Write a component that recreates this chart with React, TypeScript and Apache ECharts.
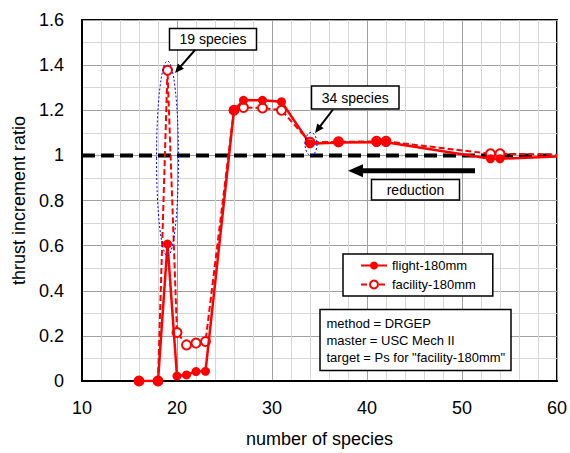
import React, { useEffect, useRef } from "react";
import * as echarts from "echarts";

const flightX = [16, 18, 19, 20, 21, 22, 23, 26, 27, 29, 31, 34, 37, 41, 42, 53, 54, 60];
const flightY = [0, 0, 0.607, 0.022, 0.027, 0.042, 0.043, 1.201, 1.244, 1.244, 1.238, 1.051, 1.057, 1.058, 1.058, 0.985, 0.985, 0.995];
const facilityX = [16, 18, 19, 20, 21, 22, 23, 26, 27, 29, 31, 34, 37, 41, 42, 53, 54, 60];
const facilityY = [0, 0, 1.377, 0.215, 0.16, 0.168, 0.175, 1.2, 1.212, 1.21, 1.2, 1.058, 1.06, 1.062, 1.062, 1.007, 1.007, 1.003];
const refX = [10, 60];
const refY = [1, 1];
const infoLines = ["method = DRGEP", "master = USC Mech II", 'target = Ps for "facility-180mm"'];

const FONT = "Liberation Sans, Arial, sans-serif";

function arrow(x1: number, y1: number, x2: number, y2: number, w: number, hl: number, hw: number) {
  const dx = x2 - x1, dy = y2 - y1;
  const L = Math.sqrt(dx * dx + dy * dy);
  const ux = dx / L, uy = dy / L;
  const px = -uy, py = ux;
  const bx = x2 - ux * hl, by = y2 - uy * hl;
  return [
    { type: "line", z: 10, shape: { x1, y1, x2: bx + ux * 1, y2: by + uy * 1 }, style: { stroke: "#000", lineWidth: w } },
    {
      type: "polygon", z: 10,
      shape: { points: [[x2, y2], [bx + px * hw / 2, by + py * hw / 2], [bx - px * hw / 2, by - py * hw / 2]] },
      style: { fill: "#000" },
    },
  ];
}

function box(x: number, y: number, w: number, h: number, text: string) {
  return [
    { type: "rect", z: 10, shape: { x, y, width: w, height: h }, style: { fill: "#fff", stroke: "#000", lineWidth: 1.5 } },
    { type: "text", z: 11, x: x + w / 2, y: y + h / 2, style: { text, fill: "#000", font: `14px ${FONT}`, align: "center", verticalAlign: "middle" } },
  ];
}

export default function App() {
  const ref = useRef<HTMLDivElement>(null);
  useEffect(() => {
    const chart = echarts.init(ref.current!, null, { renderer: "svg" });
    const toPairs = (xs: number[], ys: number[]) =>
      xs.map((x, i) => (i === xs.length - 1 ? { value: [x, ys[i]], symbol: "none" } : { value: [x, ys[i]] }));
    const graphic: any[] = [
      { type: "ellipse", z: 9, shape: { cx: 167.5, cy: 158.5, rx: 11, ry: 97.5 }, style: { fill: "none", stroke: "#0000ff", lineWidth: 1, lineDash: [2, 2] } },
      { type: "ellipse", z: 9, shape: { cx: 311, cy: 144, rx: 6, ry: 11.5 }, style: { fill: "none", stroke: "#0000ff", lineWidth: 1, lineDash: [2, 2] } },
      ...box(169.5, 28.5, 87, 21.5, "19 species"),
      ...arrow(195, 50, 175, 73, 2, 9, 8),
      ...box(311.5, 86, 87.5, 23, "34 species"),
      ...arrow(333, 109.5, 315, 133, 2, 9, 8),
      ...arrow(475, 170.7, 348, 170.7, 5, 15, 13),
      ...box(371.5, 179.5, 88, 20.5, "reduction"),
      { type: "rect", z: 10, shape: { x: 320, y: 309.5, width: 191, height: 61 }, style: { fill: "#fff", stroke: "#000", lineWidth: 1.5 } },
      ...infoLines.map((t, i) => ({
        type: "text", z: 11, x: 326.5, y: 323 + i * 17.3,
        style: { text: t, fill: "#000", font: `13px ${FONT}`, align: "left", verticalAlign: "middle" },
      })),
    ];
    chart.setOption({
      animation: false,
      backgroundColor: "#fff",
      grid: { left: 82, right: 11, top: 20, bottom: 69, show: true, borderColor: "#000", borderWidth: 2 },
      xAxis: {
        type: "value", min: 10, max: 60, interval: 10,
        name: "number of species", nameLocation: "middle", nameGap: 49,
        nameTextStyle: { fontSize: 18, color: "#000", fontFamily: FONT },
        axisLine: { show: true, lineStyle: { color: "#000", width: 2 } },
        axisTick: { show: false },
        axisLabel: { fontSize: 18, color: "#000", fontFamily: FONT, margin: 18 },
        splitLine: { show: true, lineStyle: { color: "#a0a0a0", width: 1 } },
        minorTick: { show: false, splitNumber: 5 },
        minorSplitLine: { show: true, lineStyle: { color: "#d6d6d6", width: 1 } },
      },
      yAxis: {
        type: "value", min: 0, max: 1.6, interval: 0.2,
        name: "thrust increment ratio", nameLocation: "middle", nameGap: 40,
        nameTextStyle: { fontSize: 18, color: "#000", fontFamily: FONT },
        axisLine: { show: true, lineStyle: { color: "#000", width: 2 } },
        axisTick: { show: false },
        axisLabel: { fontSize: 18, color: "#000", fontFamily: FONT, margin: 18 },
        splitLine: { show: true, lineStyle: { color: "#a0a0a0", width: 1 } },
        minorTick: { show: false, splitNumber: 2 },
        minorSplitLine: { show: true, lineStyle: { color: "#d6d6d6", width: 1 } },
      },
      legend: {
        left: 343, top: 254, orient: "vertical",
        data: ["flight-180mm", "facility-180mm"],
        backgroundColor: "#fff", borderColor: "#000", borderWidth: 1.5, borderRadius: 0,
        padding: [5, 17, 5, 17], itemGap: 6, itemWidth: 26, itemHeight: 10,
        textStyle: { fontSize: 13, color: "#000", fontFamily: FONT },
      },
      series: [
        {
          type: "line", name: "ref", data: [[refX[0], refY[0]], [refX[1], refY[1]]], symbol: "none", z: 3,
          lineStyle: { color: "#000", width: 4, type: [13, 6] }, silent: true,
        },
        {
          type: "line", name: "facility-180mm", data: toPairs(facilityX, facilityY), z: 4,
          symbol: "emptyCircle", symbolSize: 9,
          itemStyle: { color: "#ff0000", borderWidth: 1.2 },
          lineStyle: { color: "#ff0000", width: 2, type: [6, 3] },
        },
        {
          type: "line", name: "flight-180mm", data: toPairs(flightX, flightY), z: 5,
          symbol: "circle", symbolSize: 9,
          itemStyle: { color: "#ff0000" },
          lineStyle: { color: "#ff0000", width: 2.5 },
        },
      ],
      graphic,
    });
    return () => chart.dispose();
  }, []);
  return <div ref={ref} style={{ width: 570, height: 453, position: "absolute", left: 0, top: 0 }} />;
}
